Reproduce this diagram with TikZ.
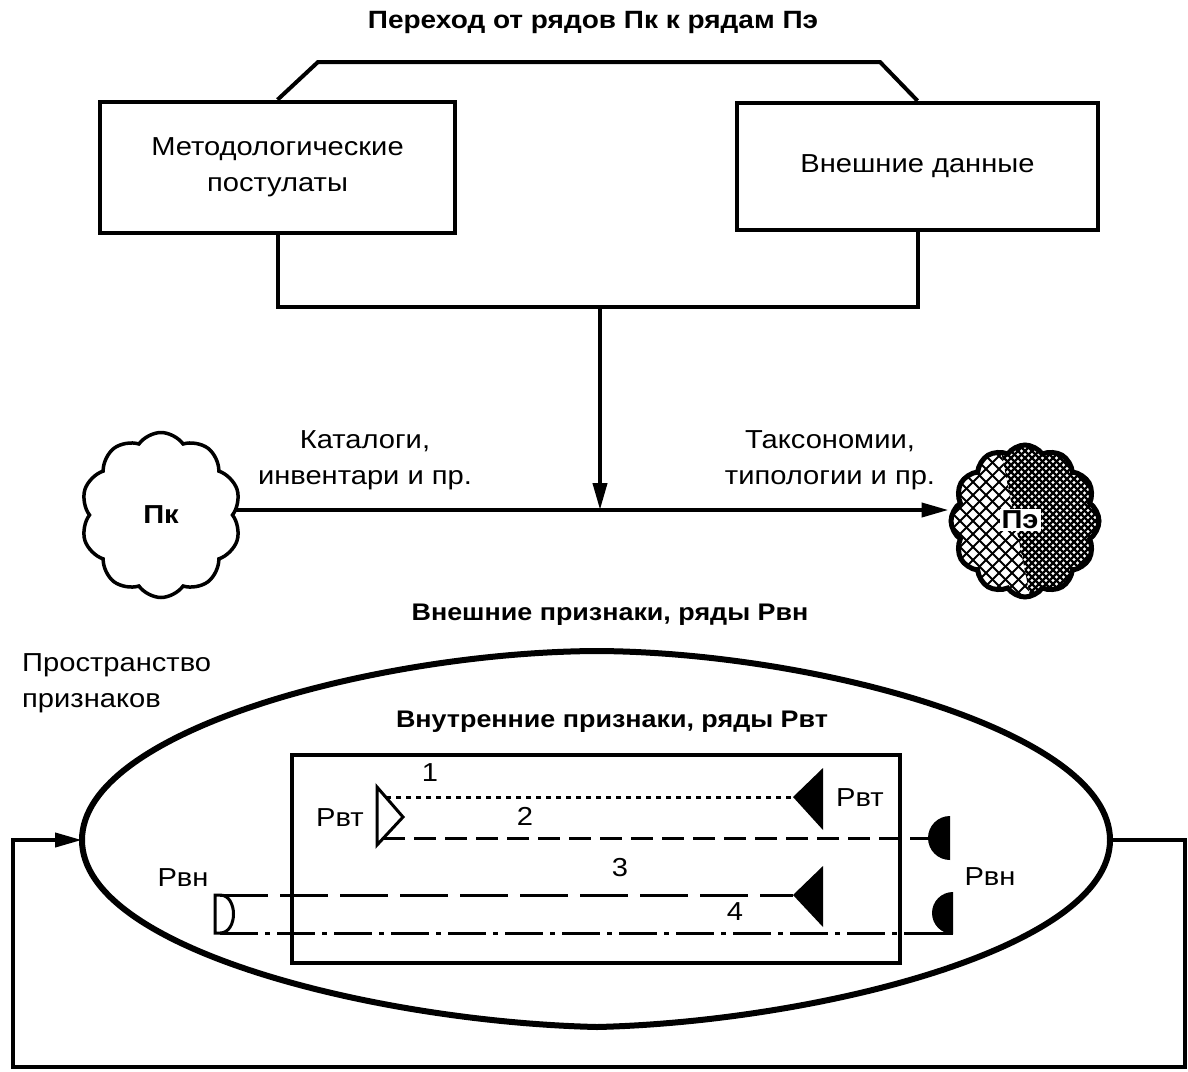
\documentclass[tikz,border=0pt]{standalone}
\usepackage{fontspec}
\setmainfont{Liberation Sans}[FakeStretch=1.12]
\usetikzlibrary{arrows.meta,shapes.symbols,calc}
\newcommand\dtxt{\fontsize{26}{36}\selectfont}
\newcommand\htxt{\fontsize{24}{30}\selectfont}
\tikzset{
  ln/.style={line width=4pt},
  box/.style={draw, line width=4.5pt, minimum width=355pt, minimum height=131pt, align=center, font=\dtxt, inner sep=0pt},
  lbl/.style={font=\dtxt, align=center, inner sep=0pt},
  hd/.style={font=\bfseries\htxt, inner sep=0pt},
  tip/.style={-{Triangle[length=27pt,width=14pt]}},
  sym/.style={line width=3pt},
  ser1/.style={line width=3pt, dash pattern=on 5pt off 5pt},
  ser2/.style={line width=3pt, dash pattern=on 22pt off 9pt},
  ser3/.style={line width=3pt, dash pattern=on 48pt off 12pt},
  ser4/.style={line width=3pt, dash pattern=on 38pt off 7pt on 5pt off 7pt},
  cl/.style={cloud, draw, cloud puff arc=110, aspect=1, font=\bfseries\dtxt, inner sep=0pt}
}
\begin{document}
\begin{tikzpicture}[x=1pt,y=-1pt]
\useasboundingbox (0,0) rectangle (1188,1071);

% title
\node[hd, font=\bfseries\fontsize{25}{30}\selectfont] (title) at (593,22) {Переход от рядов Пк к рядам Пэ};

% top boxes
\node[box] (mp) at (277.5,167.5) {Методологические\\постулаты};
\node[box, minimum width=361pt, minimum height=127pt] (ext) at (917.5,166.5) {Внешние данные};
\coordinate (tl) at (318,62);
\coordinate (tr) at (880,62);
\draw[ln, line join=miter] (mp.north) -- (tl) -- (tr) -- (ext.north);
\coordinate (jn) at (600,307);
\draw[ln] (mp.south) -- (mp.south |- jn) -- (ext.south |- jn) -- (ext.south);

% clouds
\node[cl, cloud puffs=10, line width=3.5pt, minimum width=160pt, minimum height=165pt] (pk) at (161,515) {Пк};
\node[cl, cloud puffs=12, line width=5pt, minimum width=148pt, minimum height=152pt,
  path picture={
    \begin{scope}
      \clip ([xshift=-100pt,yshift=-100pt]path picture bounding box.center) -- ([xshift=10pt,yshift=-100pt]path picture bounding box.center) -- ([xshift=-30pt,yshift=100pt]path picture bounding box.center) -- ([xshift=-100pt,yshift=100pt]path picture bounding box.center) -- cycle;
      \foreach \k in {-16,...,16} {
        \draw[line width=2pt] ([xshift=\k*13pt-100pt,yshift=-100pt]path picture bounding box.center) -- ++(200,-200);
        \draw[line width=2pt] ([xshift=\k*13pt-100pt,yshift=100pt]path picture bounding box.center) -- ++(200,200);
      }
    \end{scope}
    \begin{scope}
      \clip ([xshift=10pt,yshift=-100pt]path picture bounding box.center) -- ([xshift=100pt,yshift=-100pt]path picture bounding box.center) -- ([xshift=100pt,yshift=100pt]path picture bounding box.center) -- ([xshift=-30pt,yshift=100pt]path picture bounding box.center) -- cycle;
      \foreach \k in {-30,...,30} {
        \draw[line width=2.4pt] ([xshift=\k*7pt-100pt,yshift=-100pt]path picture bounding box.center) -- ++(200,-200);
        \draw[line width=2.4pt] ([xshift=\k*7pt-100pt,yshift=100pt]path picture bounding box.center) -- ++(200,200);
      }
    \end{scope}
  }] (pe) at (1025,521) {};
\node[font=\bfseries\dtxt, fill=white, inner sep=2pt] (pelbl) at (1020,520) {Пэ};

% main horizontal flow
\coordinate (hit) at (600,510);
\draw[ln, tip] (jn) -- (hit);
\draw[ln, tip] (pk.east |- hit) -- (pe.west |- hit);
\node[lbl] (cat) at (365,460) {Каталоги,\\инвентари и пр.};
\node[lbl] (tax) at (830,460) {Таксономии,\\типологии и пр.};

% lower part
\node[hd] (exthd) at (610,615) {Внешние признаки, ряды Рвн};
\node[lbl, align=left, anchor=north west] (space) at (22,653) {Пространство\\признаков};
\node[hd] (inthd) at (612,722) {Внутренние признаки, ряды Рвт};

\coordinate (eL) at (82,840);
\coordinate (eR) at (1110,840);
\coordinate (eT) at (597,651);
\coordinate (eB) at (597,1027);
\draw[line width=6pt] (eL) .. controls (82,730) and (380,652) .. (eT)
  .. controls (810,652) and (1110,730) .. (eR)
  .. controls (1110,950) and (810,1022) .. (eB)
  .. controls (380,1022) and (82,950) .. cycle;

\coordinate (o1) at (1185,840);
\coordinate (o2) at (1185,1067);
\coordinate (o3) at (13,1067);
\coordinate (o4) at (13,840);
\draw[ln, tip] (eR) -- (o1) -- (o2) -- (o3) -- (o4) -- (eL);

\node[draw, line width=4.5pt, minimum width=608pt, minimum height=208pt] (inner) at (596,859) {};

% symbols
\draw[sym, line join=miter] (377,787) -- (403,817) -- (377,845) -- cycle;
\coordinate (a1) at (386,797);
\coordinate (a2) at (383,838);
\fill (793,797) -- (823,768) -- (823,830) -- cycle;
\coordinate (b1) at (793,797);
\fill (793,895) -- (823,866) -- (823,927) -- cycle;
\coordinate (b3) at (793,895);
\fill (950,816) .. controls (937.85,816) and (928,825.85) .. (928,838) .. controls (928,850.15) and (937.85,860) .. (950,860) -- cycle;
\coordinate (c2) at (928,838);
\fill (953,892) .. controls (941.4,892) and (932,901.4) .. (932,913) .. controls (932,924.6) and (941.4,934) .. (953,934) -- cycle;
\coordinate (c4) at (953,933);
\draw[sym] (215,895) -- (220,895) .. controls (238,895) and (238,933) .. (220,933) -- (215,933) -- cycle;
\coordinate (d3) at (220,895);
\coordinate (d4) at (220,933);
\coordinate (s4) at (905,933);

\draw[ser1] (a1) -- (b1);
\draw[ser2] (a2) -- (c2);
\draw[ser3] (d3) -- (b3);
\draw[ser4] (d4) -- (s4);
\draw[sym] (s4) -- (c4);

\node[lbl] (rvtL) at (340,818) {Рвт};
\node[lbl] (rvtR) at (860,798) {Рвт};
\node[lbl] (rvnR) at (990,877) {Рвн};
\node[lbl] (rvnL) at (183,878) {Рвн};
\node[lbl] (n1) at (430,773) {1};
\node[lbl] (n2) at (525,816) {2};
\node[lbl] (n3) at (620,868) {3};
\node[lbl] (n4) at (735,912) {4};
\end{tikzpicture}
\end{document}
